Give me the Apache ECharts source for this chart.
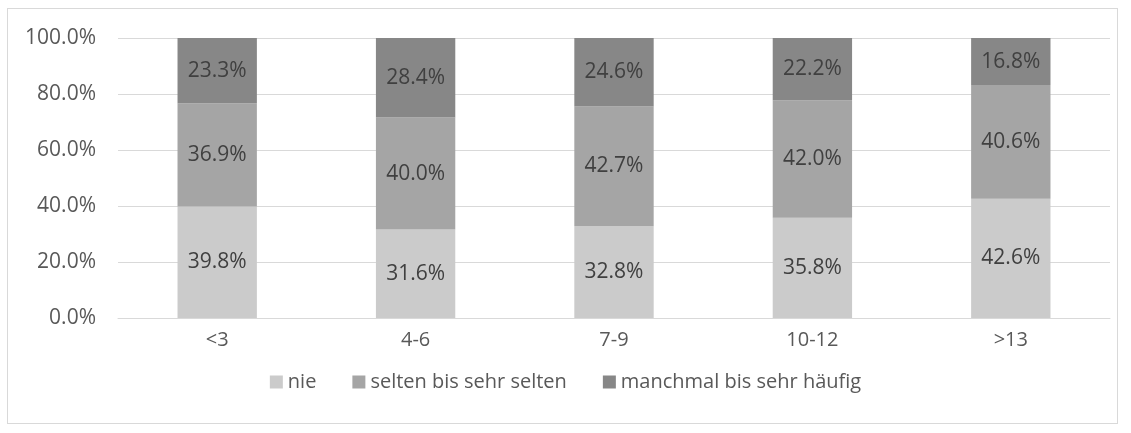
<!DOCTYPE html>
<html>
<head>
<meta charset="utf-8">
<script src="https://cdn.jsdelivr.net/npm/echarts@6/dist/echarts.min.js"></script>
<style>
  html, body { margin: 0; padding: 0; background: #ffffff; }
  #frame { position: absolute; left: 7px; top: 8px; width: 1111px; height: 416px; border: 1px solid #d9d9d9; box-sizing: border-box; }
  #chart { position: absolute; left: 0; top: 0; width: 1131px; height: 433px; }
</style>
</head>
<body>
<div id="frame"></div>
<div id="chart"></div>
<script>
const categories = ['<3', '4-6', '7-9', '10-12', '>13'];
const nie = [39.8, 31.6, 32.8, 35.8, 42.6];
const selten = [36.9, 40.0, 42.7, 42.0, 40.6];
const manchmal = [23.3, 28.4, 24.6, 22.2, 16.8];
const yTicks = [0, 20, 40, 60, 80, 100];

const font = 'Open Sans, Liberation Sans, sans-serif';

const chart = echarts.init(document.getElementById('chart'), null, { renderer: 'canvas' });

const mkSeries = (name, data, color) => ({
  name: name,
  type: 'bar',
  stack: 'total',
  data: data,
  barWidth: '40%',
  itemStyle: { color: color },
  label: {
    show: true,
    position: 'inside',
    formatter: p => p.value.toFixed(1) + '%',
    color: '#404040',
    fontSize: 21,
    fontFamily: font
  }
});

chart.setOption({
  animation: false,
  grid: { left: 118, right: 21, top: 38, bottom: 115 },
  legend: {
    bottom: 36,
    left: 'center',
    itemWidth: 13,
    itemHeight: 13,
    itemGap: 36,
    icon: 'rect',
    textStyle: { color: '#595959', fontSize: 20, fontFamily: font },
    data: ['nie', 'selten bis sehr selten', 'manchmal bis sehr häufig']
  },
  xAxis: {
    type: 'category',
    data: categories,
    axisLine: { lineStyle: { color: '#d9d9d9' } },
    axisTick: { show: false },
    axisLabel: { color: '#595959', fontSize: 20, fontFamily: font, margin: 12 }
  },
  yAxis: {
    type: 'value',
    min: 0,
    max: 100,
    interval: 20,
    axisLine: { show: false },
    axisTick: { show: false },
    splitLine: { lineStyle: { color: '#d9d9d9' } },
    axisLabel: {
      color: '#595959', fontSize: 21, fontFamily: font, margin: 22,
      formatter: v => yTicks.includes(v) ? v.toFixed(1) + '%' : ''
    }
  },
  series: [
    mkSeries('nie', nie, '#cbcbcb'),
    mkSeries('selten bis sehr selten', selten, '#a5a5a5'),
    mkSeries('manchmal bis sehr häufig', manchmal, '#878787')
  ]
});
</script>
</body>
</html>
